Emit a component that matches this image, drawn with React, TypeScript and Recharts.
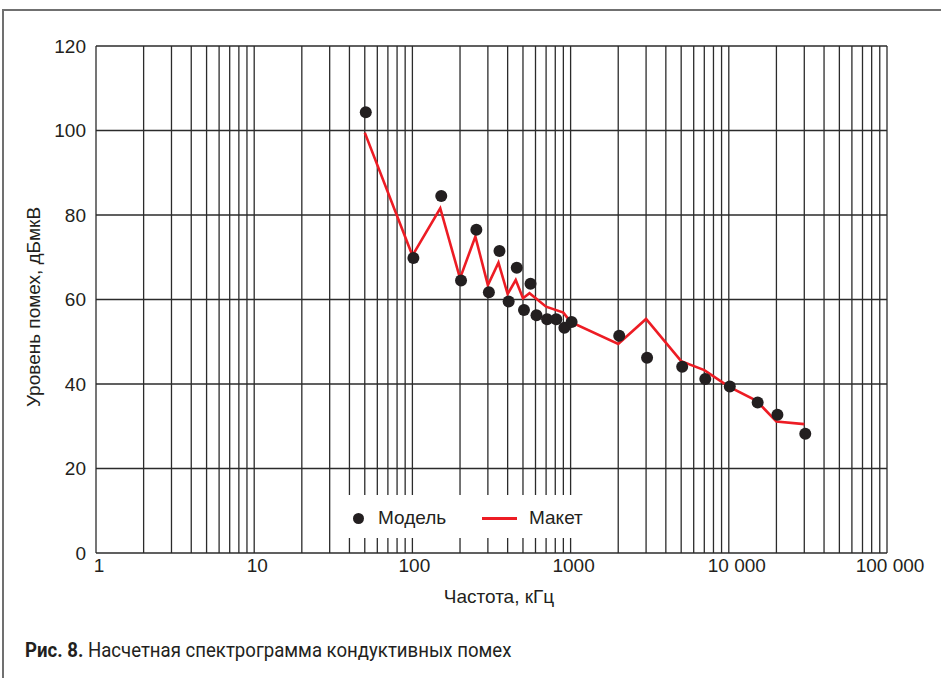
import React from "react";
import {
  ComposedChart,
  Line,
  Scatter,
  XAxis,
  YAxis,
  ReferenceLine,
  Legend,
} from "recharts";

// ---- data ----
const modelFreq = [50, 100, 150, 200, 250, 300, 350, 400, 450, 500, 550, 600, 700, 800, 900, 1000, 2000, 3000, 5000, 7000, 10000, 15000, 20000, 30000];
const modelLevel = [104.3, 69.8, 84.5, 64.5, 76.5, 61.7, 71.5, 59.5, 67.5, 57.5, 63.7, 56.3, 55.3, 55.3, 53.3, 54.7, 51.4, 46.2, 44.1, 41.2, 39.4, 35.6, 32.7, 28.2];

const maketFreq = [50, 100, 150, 200, 250, 300, 350, 400, 450, 500, 550, 700, 900, 1000, 2000, 3000, 5000, 7000, 10000, 15000, 20000, 30000];
const maketLevel = [99.5, 70.4, 81.6, 65.0, 74.9, 63.4, 68.7, 61.3, 64.6, 60.3, 61.5, 58.3, 56.9, 54.7, 49.5, 55.4, 45.4, 43.3, 39.4, 36.0, 31.1, 30.5];

const xTicks = [1, 10, 100, 1000, 10000, 100000];
const xTickLabels = ["1", "10", "100", "1000", "10 000", "100 000"];
const yTicks = [0, 20, 40, 60, 80, 100, 120];

const seriesNames = ["Модель", "Макет"];
const xTitle = "Частота, кГц";
const yTitle = "Уровень помех, дБмкВ";
const captionBold = "Рис. 8.";
const captionText = "Насчетная спектрограмма кондуктивных помех";

// vertical grid at every log sub-division
const gridX: number[] = [];
for (let d = 1; d < 100000; d *= 10) {
  for (let k = 1; k < 10; k++) gridX.push(d * k);
}
gridX.push(100000);

const modelData = modelFreq.map((f, i) => ({ f, v: modelLevel[i] }));
const maketData = maketFreq.map((f, i) => ({ f, v: maketLevel[i] }));

const FONT = '"Liberation Sans", Arial, sans-serif';
const INK = "#231f20";
const RED = "#ed1c24";
const GRID = "#2b2b2b";

const XTick = (props: any) => {
  const { x, y, payload } = props;
  const idx = xTicks.indexOf(payload.value);
  const nudge: Record<number, number> = { 1: 3, 10: 3, 100: 2, 1000: 3, 10000: 8, 100000: 3 };
  return (
    <text
      x={x + (nudge[payload.value] ?? 3)}
      y={y}
      dy="0.71em"
      textAnchor="middle"
      fontFamily={FONT}
      fontSize={19}
      fill={INK}
    >
      {xTickLabels[idx]}
    </text>
  );
};

const Dot = (props: any) => {
  const { cx, cy } = props;
  if (cx == null || cy == null) return null;
  return <circle cx={cx + 1} cy={cy} r={6} fill={INK} />;
};

const LegendContent = () => (
  <div style={{ position: "relative", width: "100%", height: "100%", fontFamily: FONT, fontSize: 19, color: INK }}>
    <span
      style={{
        position: "absolute",
        left: 12.5,
        top: 17.5,
        width: 11,
        height: 11,
        borderRadius: "50%",
        background: INK,
      }}
    />
    <span style={{ position: "absolute", left: 38, top: 12, lineHeight: "22px" }}>{seriesNames[0]}</span>
    <span
      style={{
        position: "absolute",
        left: 142,
        top: 21.5,
        width: 35,
        height: 3,
        background: RED,
      }}
    />
    <span style={{ position: "absolute", left: 189, top: 12, lineHeight: "22px" }}>{seriesNames[1]}</span>
  </div>
);

export default function App() {
  return (
    <div style={{ position: "absolute", left: 0, top: 0, width: 941, height: 678, background: "#fff", overflow: "hidden" }}>
      {/* frame */}
      <div
        style={{
          position: "absolute",
          left: 2,
          top: 9,
          width: 939,
          height: 669,
          borderTop: "2px solid #707070",
          borderLeft: "2px solid #707070",
          boxSizing: "border-box",
        }}
      />
      <div style={{ position: "absolute", left: 0, top: 0 }}>
        <ComposedChart
          width={941}
          height={620}
          margin={{ top: 46, right: 54, bottom: 37, left: 36 }}
        >
          <XAxis
            dataKey="f"
            type="number"
            scale="log"
            domain={[1, 100000]}
            ticks={xTicks}
            allowDataOverflow
            axisLine={false}
            tickLine={false}
            tickSize={0}
            tickMargin={6}
            height={30}
            tick={<XTick />}
            interval={0}
          />
          <YAxis
            dataKey="v"
            type="number"
            domain={[0, 120]}
            ticks={yTicks}
            axisLine={false}
            tickLine={false}
            tickSize={0}
            tickMargin={10}
            width={60}
            interval={0}
            tick={{ fontFamily: FONT, fontSize: 19, fill: INK }}
          />
          {yTicks.map((v) => (
            <ReferenceLine key={"h" + v} y={v} stroke={GRID} strokeWidth={1.3} ifOverflow="visible" />
          ))}
          {gridX.map((v) => (
            <ReferenceLine key={"v" + v} x={v} stroke={GRID} strokeWidth={1.3} ifOverflow="visible" />
          ))}
          <Legend
            layout="vertical"
            align="center"
            verticalAlign="middle"
            content={<LegendContent />}
            wrapperStyle={{
              left: 340,
              top: 495,
              width: 255,
              height: 43,
              background: "#fff",
            }}
          />
          <Line
            data={maketData}
            dataKey="v"
            name={seriesNames[1]}
            type="linear"
            stroke={RED}
            strokeWidth={2.6}
            dot={false}
            activeDot={false}
            isAnimationActive={false}
          />
          <Scatter
            data={modelData}
            dataKey="v"
            name={seriesNames[0]}
            fill={INK}
            shape={<Dot />}
            isAnimationActive={false}
          />
        </ComposedChart>
      </div>
      {/* y title */}
      <div
        style={{
          position: "absolute",
          left: 34,
          top: 307,
          transform: "translate(-50%, -50%) rotate(-90deg)",
          whiteSpace: "nowrap",
          fontFamily: FONT,
          fontSize: 19,
          lineHeight: "20px",
          color: INK,
        }}
      >
        {yTitle}
      </div>
      {/* x title */}
      <div
        style={{
          position: "absolute",
          left: 499,
          top: 587,
          transform: "translateX(-50%)",
          whiteSpace: "nowrap",
          fontFamily: FONT,
          fontSize: 19,
          lineHeight: "20px",
          color: INK,
        }}
      >
        {xTitle}
      </div>
      {/* caption */}
      <div
        style={{
          position: "absolute",
          left: 25,
          top: 640,
          whiteSpace: "nowrap",
          fontFamily: "Roboto, sans-serif",
          fontSize: 20,
          lineHeight: "20px",
          color: INK,
          transformOrigin: "0 50%",
          transform: "scaleX(0.93)",
        }}
      >
        <span style={{ fontWeight: 700 }}>{captionBold}</span> {captionText}
      </div>
    </div>
  );
}
